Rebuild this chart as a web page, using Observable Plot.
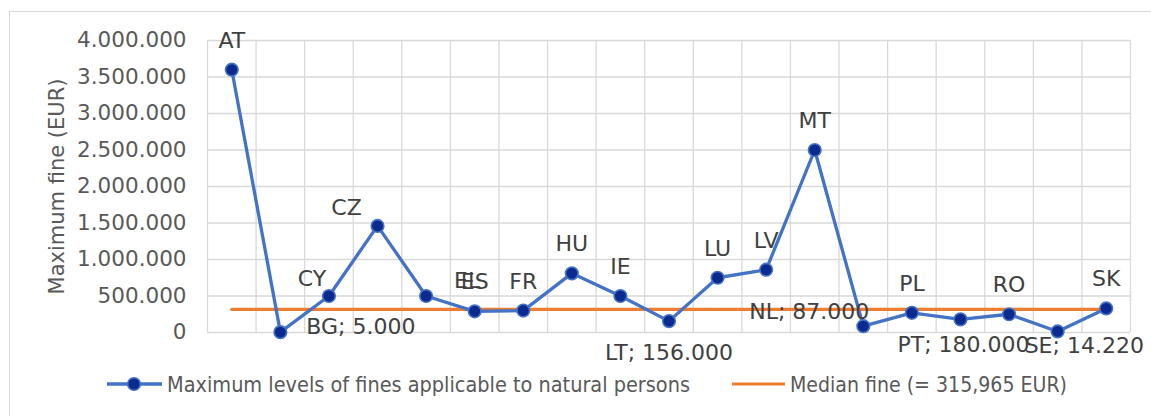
<!DOCTYPE html>
<html>
<head>
<meta charset="utf-8">
<script src="https://cdn.jsdelivr.net/npm/d3@7"></script>
<script src="https://cdn.jsdelivr.net/npm/@observablehq/plot@0.6"></script>
<style>
  html, body { margin: 0; padding: 0; background: #fff; width: 1151px; height: 416px; overflow: hidden; }
  #frame { position: absolute; left: 9px; top: 11px; width: 1300px; height: 600px; border: 1px solid #d9d9d9; box-sizing: border-box; }
  #chart { position: absolute; left: 0; top: 0; }
  #chart svg { display: block; }
</style>
</head>
<body>
<div id="frame"></div>
<div id="chart"></div>
<script>
// ---- data ----
const countries = ["AT","BG","CY","CZ","EL","ES","FR","HU","IE","LT","LU","LV","MT","NL","PL","PT","RO","SE","SK"];
const maxFines = [3600000, 5000, 500000, 1460000, 500000, 290000, 300000, 810000, 500000, 156000, 750000, 860000, 2500000, 87000, 270000, 180000, 250000, 14220, 330000];
const medianFine = 315965;
const yTicks = [0, 500000, 1000000, 1500000, 2000000, 2500000, 3000000, 3500000, 4000000];
const seriesNames = ["Maximum levels of fines applicable to natural persons", "Median fine (= 315,965 EUR)"];
const yTitle = "Maximum fine (EUR)";

// ---- formatting ----
const fmt = d3.formatLocale({decimal: ",", thousands: ".", grouping: [3], currency: ["", ""]}).format(",");

const rows = countries.map((c, i) => ({c, i, v: maxFines[i]}));
const font = "DejaVu Sans, Verdana, sans-serif";
const labelColor = "#404040";

// label placement per category (style, not data)
const place = {
  BG: {anchor: "start", dx: 26, dy: -5, withValue: true},
  LT: {anchor: "middle", dx: 0, dy: 32, withValue: true},
  NL: {anchor: "end", dx: 6, dy: -14, withValue: true},
  PT: {anchor: "middle", dx: 3, dy: 26, withValue: true},
  SE: {anchor: "start", dx: -33, dy: 14, withValue: true},
  CY: {anchor: "middle", dx: -17, dy: -17},
  CZ: {anchor: "middle", dx: -31, dy: -18},
  EL: {anchor: "middle", dx: 41, dy: -15}
};
const defaultPlace = {anchor: "middle", dx: 0, dy: -29};
const labelText = d => (place[d.c] && place[d.c].withValue) ? `${d.c}; ${fmt(d.v)}` : d.c;

// group rows by identical placement to build text marks
const groups = d3.groups(rows, d => place[d.c] ? d.c : "__default");
const textMarks = groups.map(([key, data]) => {
  const p = key === "__default" ? defaultPlace : place[key];
  return Plot.text(data, {
    x: d => d.i + 0.5, y: "v", text: labelText,
    textAnchor: p.anchor, dx: p.dx, dy: p.dy,
    lineAnchor: "middle", fontSize: 22, fill: labelColor, fontFamily: font
  });
});

const W = 1151, H = 360;
const plot = Plot.plot({
  width: W, height: H,
  marginLeft: 207, marginRight: 21, marginTop: 40, marginBottom: 28,
  style: {fontFamily: font, background: "transparent", overflow: "visible"},
  x: {domain: [0, countries.length], axis: null},
  y: {domain: [0, 4000000], axis: null},
  marks: [
    Plot.ruleY(yTicks, {stroke: "#d9d9d9", strokeWidth: 1.3}),
    Plot.ruleX(d3.range(countries.length + 1), {stroke: "#d9d9d9", strokeWidth: 1.3}),
    Plot.axisY({ticks: yTicks, tickFormat: d => d === 0 ? "0" : fmt(d), tickSize: 0, tickPadding: 21, fontSize: 21.5, fill: "#595959", label: null}),
    Plot.text([yTitle], {frameAnchor: "left", dx: -150, rotate: -90, fontSize: 21, fill: "#595959", textAnchor: "middle", lineAnchor: "middle", fontFamily: font}),
    Plot.lineY(rows, {x: d => d.i + 0.5, y: () => medianFine, stroke: "#ED7D31", strokeWidth: 3.2}),
    Plot.lineY(rows, {x: d => d.i + 0.5, y: "v", stroke: "#4472C4", strokeWidth: 3.3, strokeLinejoin: "round"}),
    Plot.dot(rows, {x: d => d.i + 0.5, y: "v", r: 6.3, fill: "#0a2a8f", stroke: "#4472C4", strokeWidth: 1.6}),
    ...textMarks
  ]
});
document.getElementById("chart").appendChild(plot);

// ---- legend below the plot ----
const legend = d3.create("svg").attr("width", W).attr("height", 56).style("display", "block").style("font-family", font);
const ly = 24;
const g1 = legend.append("g");
g1.append("line").attr("x1", 107).attr("x2", 162).attr("y1", ly).attr("y2", ly).attr("stroke", "#4472C4").attr("stroke-width", 3.3);
g1.append("circle").attr("cx", 134).attr("cy", ly).attr("r", 6.3).attr("fill", "#0a2a8f").attr("stroke", "#4472C4").attr("stroke-width", 1.6);
g1.append("text").attr("x", 167).attr("y", ly).attr("dy", "0.36em").attr("font-size", 21).attr("fill", "#595959")
  .attr("textLength", 523).attr("lengthAdjust", "spacingAndGlyphs").text(seriesNames[0]);
const g2 = legend.append("g");
g2.append("line").attr("x1", 732).attr("x2", 785).attr("y1", ly).attr("y2", ly).attr("stroke", "#ED7D31").attr("stroke-width", 3.2);
g2.append("text").attr("x", 790).attr("y", ly).attr("dy", "0.36em").attr("font-size", 21).attr("fill", "#595959")
  .attr("textLength", 277).attr("lengthAdjust", "spacingAndGlyphs").text(seriesNames[1]);
document.getElementById("chart").appendChild(legend.node());
</script>
</body>
</html>
